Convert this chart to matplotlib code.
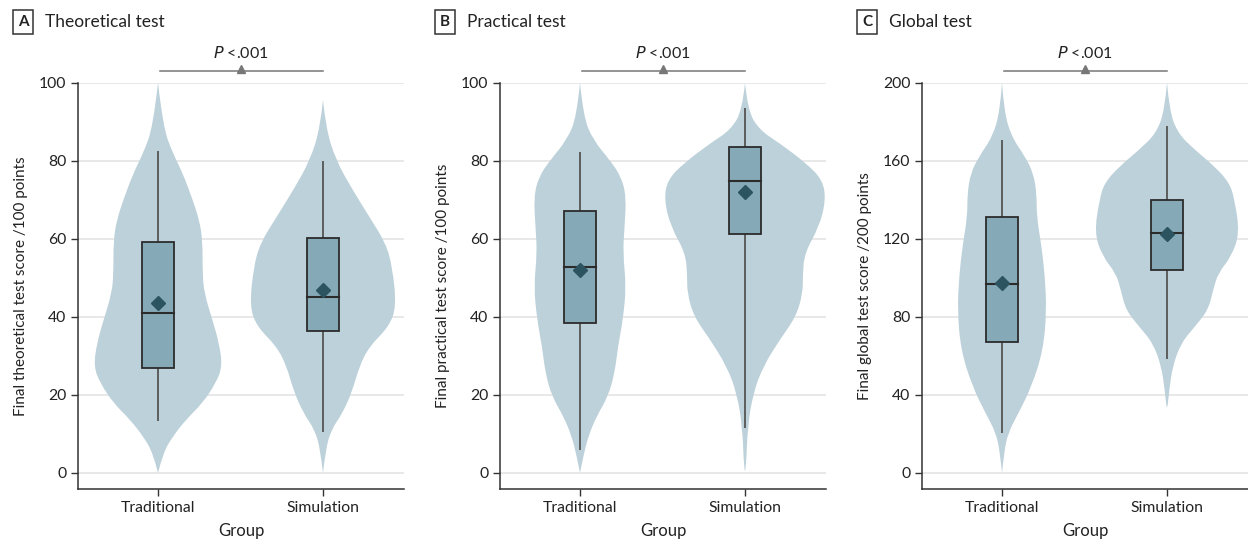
import matplotlib
matplotlib.use('Agg')
import matplotlib.pyplot as plt
from matplotlib import font_manager
from matplotlib.patches import Rectangle, PathPatch
from matplotlib.path import Path
import matplotlib.transforms as mtransforms

# ---------------- data ----------------
groups = ['Traditional', 'Simulation']
panel_letters = ['A', 'B', 'C']
panel_titles = ['Theoretical test', 'Practical test', 'Global test']
y_labels = ['Final theoretical test score /100 points',
            'Final practical test score /100 points',
            'Final global test score /200 points']
y_limits_top = [100, 100, 200]
y_ticks_A = [0, 20, 40, 60, 80, 100]
y_ticks_B = [0, 20, 40, 60, 80, 100]
y_ticks_C = [0, 40, 80, 120, 160, 200]
p_text = '<.001'

# box stats: whisker low, Q1, median, Q3, whisker high, mean
box_A_trad = [13.4, 27.0, 40.9, 59.1, 82.6, 43.6]
box_A_sim = [10.5, 36.4, 45.1, 60.1, 80.0, 46.9]
box_B_trad = [6.0, 38.4, 52.8, 67.2, 82.2, 51.9]
box_B_sim = [11.5, 61.2, 74.7, 83.4, 93.6, 71.9]
box_C_trad = [20.5, 66.9, 96.9, 131.1, 170.6, 97.6]
box_C_sim = [58.4, 104.1, 123.2, 140.1, 178.0, 122.4]

# violin density profiles (score level, half-width in group units)
viol_A_trad_y = [100, 88.7, 81.9, 76.8, 70.0, 64.8, 59.7, 51.2, 46.1, 39.2, 33.3, 27.3, 23.0, 17.9, 13.7, 9.4, 5.1, 0]
viol_A_trad_w = [0, 0.03, 0.09, 0.15, 0.21, 0.25, 0.27, 0.27, 0.28, 0.33, 0.37, 0.39, 0.35, 0.27, 0.17, 0.09, 0.03, 0]
viol_A_sim_y = [95.6, 88.7, 80.2, 72.5, 65.7, 58.9, 52.9, 42.7, 37.5, 32.4, 27.3, 21.3, 15.4, 11.1, 6.0, 0]
viol_A_sim_w = [0, 0.016, 0.077, 0.18, 0.28, 0.38, 0.42, 0.445, 0.40, 0.28, 0.22, 0.18, 0.12, 0.05, 0.016, 0]
viol_B_trad_y = [100, 91.3, 85.3, 80.2, 75.9, 70.8, 63.1, 56.3, 47.8, 39.2, 32.4, 25.6, 19.6, 14.5, 9.4, 4.3, 0]
viol_B_trad_w = [0, 0.02, 0.08, 0.18, 0.25, 0.28, 0.27, 0.26, 0.28, 0.26, 0.23, 0.21, 0.17, 0.10, 0.05, 0.02, 0]
viol_B_sim_y = [100, 93.0, 87.9, 84.5, 79.4, 75.1, 70.0, 63.1, 56.3, 50.3, 46.1, 40.1, 34.1, 27.3, 20.5, 11.9, 0.9, 0.5]
viol_B_sim_w = [0, 0.016, 0.087, 0.21, 0.37, 0.47, 0.49, 0.45, 0.36, 0.35, 0.35, 0.31, 0.21, 0.11, 0.05, 0.016, 0.006, 0]
viol_C_trad_y = [200, 185.5, 172.4, 162.1, 153.6, 143.3, 131.4, 116.0, 100.7, 83.6, 63.1, 44.4, 30.7, 20.5, 10.2, 0]
viol_C_trad_w = [0, 0.012, 0.057, 0.14, 0.19, 0.21, 0.21, 0.24, 0.26, 0.27, 0.25, 0.18, 0.10, 0.036, 0.012, 0]
viol_C_sim_y = [200, 186.0, 174.1, 165.5, 157.0, 148.5, 139.9, 122.9, 110.9, 102.4, 93.9, 83.6, 75.1, 66.6, 54.6, 42.7, 34.1, 33.5]
viol_C_sim_w = [0, 0.014, 0.065, 0.17, 0.29, 0.38, 0.41, 0.44, 0.39, 0.31, 0.28, 0.25, 0.17, 0.085, 0.034, 0.014, 0.004, 0]

# ---------------- style ----------------
avail = {f.name for f in font_manager.fontManager.ttflist}
font = 'Liberation Sans Narrow' if 'Liberation Sans Narrow' in avail else 'Lato'
plt.rcParams['font.family'] = [font, 'DejaVu Sans']

VIOLIN = '#bdd1da'
BOX = '#86a9b7'
MEAN = '#2c5360'
EDGE = '#2b2b2b'
WHISK = '#555555'
GRID = '#e2e2e2'
TXT = '#222222'


def smooth_side(pts):
    """Quadratic-Bezier path pieces through a polyline (sharp ends kept)."""
    verts, codes = [], []
    n = len(pts)
    for k in range(1, n - 1):
        ctrl = pts[k]
        if k == n - 2:
            end = pts[k + 1]
        else:
            end = ((pts[k][0] + pts[k + 1][0]) / 2, (pts[k][1] + pts[k + 1][1]) / 2)
        verts += [ctrl, end]
        codes += [Path.CURVE3, Path.CURVE3]
    return verts, codes


def violin_patch(center, ys, ws):
    right = [(center + w, y) for y, w in zip(ys, ws)]
    left = [(center - w, y) for y, w in zip(ys, ws)][::-1]
    verts = [right[0]]
    codes = [Path.MOVETO]
    v, c = smooth_side(right)
    verts += v
    codes += c
    verts.append(left[0])
    codes.append(Path.LINETO)
    v, c = smooth_side(left)
    verts += v
    codes += c
    verts.append(right[0])
    codes.append(Path.CLOSEPOLY)
    return PathPatch(Path(verts, codes), facecolor=VIOLIN, edgecolor='none', lw=0, zorder=1)


W, H = 1248, 542
fig = plt.figure(figsize=(W / 100, H / 100), dpi=100)

panel_left_px = [78, 500, 922]
ax_w_px = 326
ax_top_px, ax_bot_px = 82.7, 489
y_ticks = [y_ticks_A, y_ticks_B, y_ticks_C]
boxes = [[box_A_trad, box_A_sim], [box_B_trad, box_B_sim], [box_C_trad, box_C_sim]]
violins = [[(viol_A_trad_y, viol_A_trad_w), (viol_A_sim_y, viol_A_sim_w)],
           [(viol_B_trad_y, viol_B_trad_w), (viol_B_sim_y, viol_B_sim_w)],
           [(viol_C_trad_y, viol_C_trad_w), (viol_C_sim_y, viol_C_sim_w)]]

box_half = 0.095
for i in range(3):
    l = panel_left_px[i] / W
    b = 1 - ax_bot_px / H
    h = (ax_bot_px - ax_top_px) / H
    ax = fig.add_axes([l, b, ax_w_px / W, h])
    top = y_limits_top[i]
    bottom = -top * 0.041
    ax.set_ylim(bottom, top)
    ax.set_xlim(-0.485, 1.491)
    for t in y_ticks[i]:
        ax.axhline(t, color=GRID, lw=1.1, zorder=0)
    for g in range(2):
        vy, vw = violins[i][g]
        ax.add_patch(violin_patch(g, vy, vw))
        lo, q1, med, q3, hi, mean = boxes[i][g]
        ax.plot([g, g], [lo, hi], color=WHISK, lw=1.3, zorder=2, solid_capstyle='butt')
        ax.add_patch(Rectangle((g - box_half, q1), 2 * box_half, q3 - q1,
                               facecolor=BOX, edgecolor=EDGE, lw=1.3, zorder=3))
        ax.plot([g - box_half, g + box_half], [med, med], color=EDGE, lw=1.5, zorder=4)
        ax.plot([g], [mean], marker='D', color=MEAN, markersize=7.5, zorder=5, lw=0)

    ax.set_yticks(y_ticks[i])
    ax.set_xticks([0, 1])
    ax.set_xticklabels(groups)
    for s in ['top', 'right']:
        ax.spines[s].set_visible(False)
    for s in ['left', 'bottom']:
        ax.spines[s].set_color('#333333')
        ax.spines[s].set_linewidth(1.1)
    ax.tick_params(axis='both', colors='#333333', labelcolor=TXT, labelsize=11.3,
                   length=5, width=1)
    ax.tick_params(axis='x', pad=3.5)
    ax.set_xlabel('Group', fontsize=12, color=TXT, labelpad=6)
    ax.set_ylabel(y_labels[i], fontsize=11, color=TXT, labelpad=8)

    trans = mtransforms.blended_transform_factory(ax.transData, ax.transAxes)
    yl = (ax_bot_px - 71.3) / (ax_bot_px - ax_top_px)
    ax.plot([0.01, 1.0], [yl, yl], color='#777777', lw=1.1, transform=trans, clip_on=False)
    ax.plot([0.5], [yl + 0.0065], marker='^', color='#777777', markersize=5.5,
            transform=trans, clip_on=False)
    yt = (ax_bot_px - 53.5) / (ax_bot_px - ax_top_px)
    ax.text(0.5, yt, r'$\it{P}$ ' + p_text, transform=trans, ha='center', va='center',
            fontsize=11.5, color=TXT)

    # panel letter box and title
    bx = (panel_left_px[i] - 66) / W
    fig.text(bx + 11 / W, 1 - 22 / H, panel_letters[i], ha='center', va='center',
             fontsize=11, fontweight='bold', color=TXT,
             bbox=dict(boxstyle='square,pad=0.33', facecolor='white', edgecolor='#333333', lw=1.1))
    fig.text(bx + 33 / W, 1 - 22 / H, panel_titles[i], ha='left', va='center',
             fontsize=12.5, color=TXT)

fig.savefig('out.png', dpi=100)
